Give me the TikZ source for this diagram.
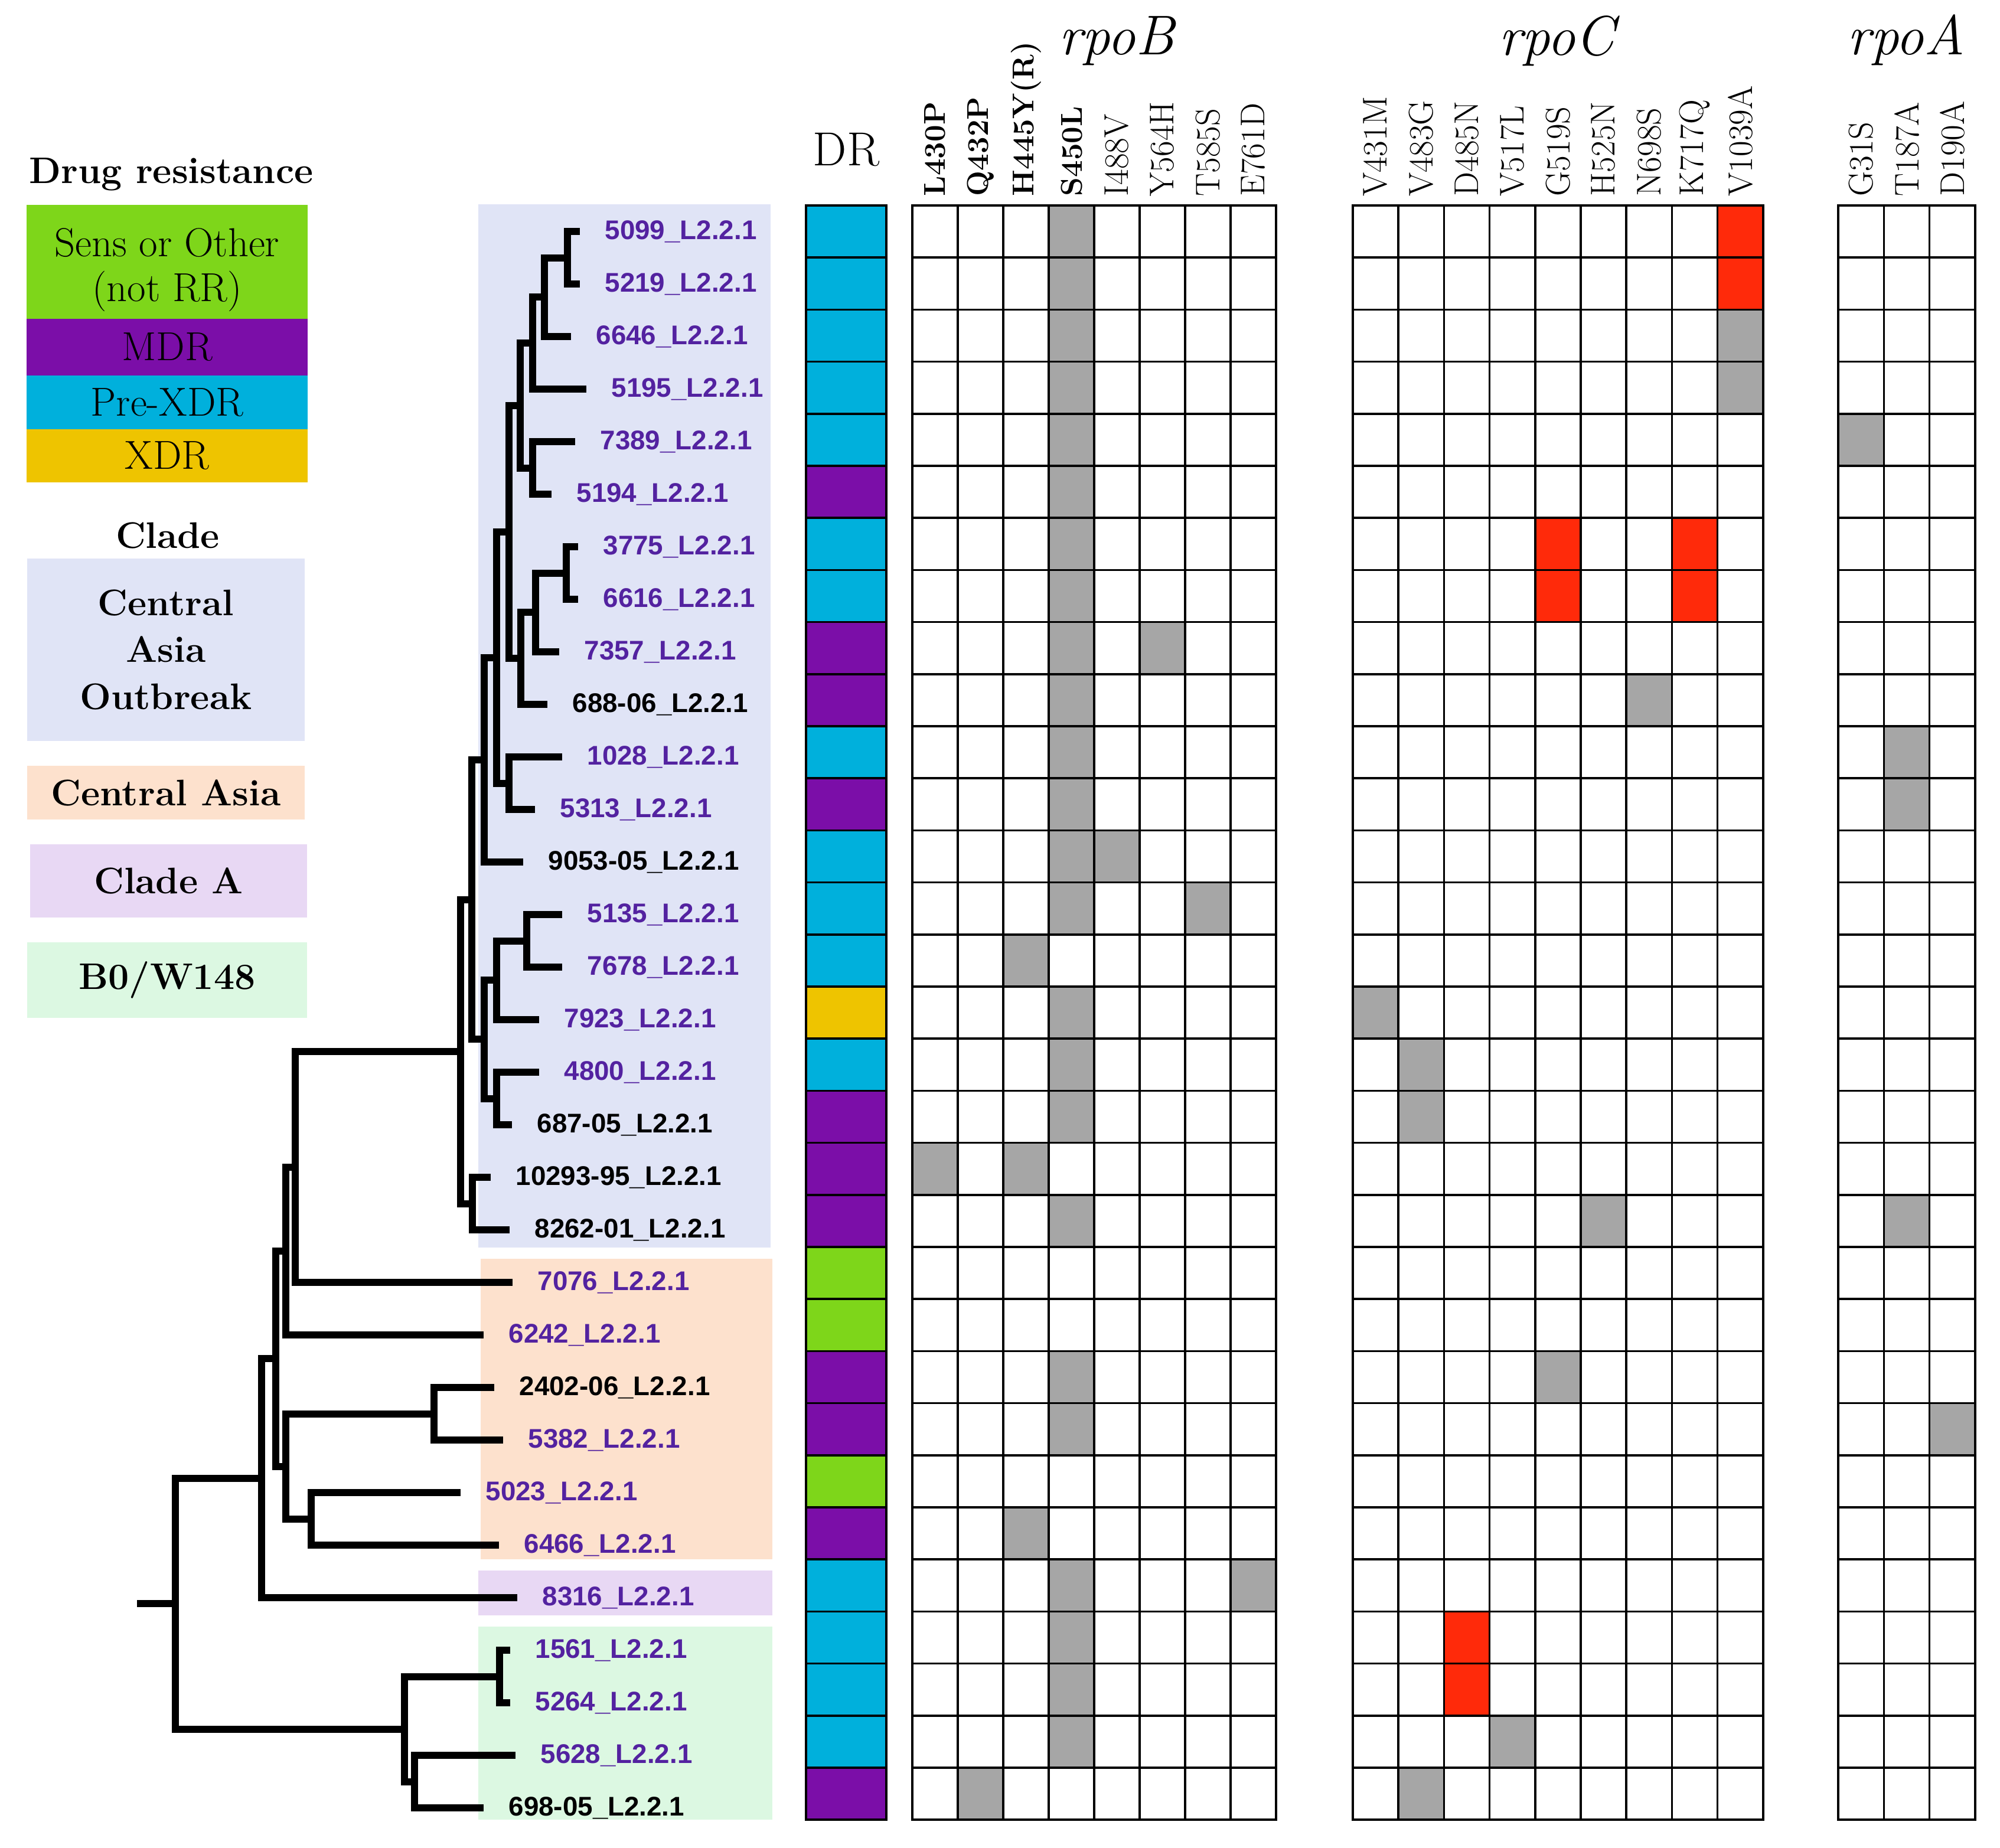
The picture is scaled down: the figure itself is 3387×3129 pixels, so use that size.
\documentclass[tikz,border=0pt]{standalone}
\usepackage{fontspec}
\newfontfamily\samplefont{Liberation Sans}
\usetikzlibrary{calc}

\definecolor{drsens}{RGB}{126,214,26}
\definecolor{drmdr}{RGB}{123,14,168}
\definecolor{drpre}{RGB}{0,176,220}
\definecolor{drxdr}{RGB}{238,196,0}
\definecolor{bgcao}{RGB}{224,228,246}
\definecolor{bgca}{RGB}{253,225,205}
\definecolor{bgcladea}{RGB}{232,216,244}
\definecolor{bgbzero}{RGB}{220,248,226}
\definecolor{labpurple}{RGB}{83,34,160}
\definecolor{hitgray}{RGB}{166,166,166}
\definecolor{hitred}{RGB}{255,42,10}

% clade: name, x of the split, upper child, lower child
\newcommand{\clade}[4]{%
  \path ($(#3)!0.5!(#4)$) coordinate (#1m);
  \coordinate (#1) at ($(#2,0)!(#1m)!(#2,1)$);
  \draw[branch] (#3) -| (#1) |- (#4);
}
% grid of a gene block: left x, columns, column width
\newcommand{\genegrid}[3]{%
  \foreach \i in {0,...,31}
    \draw[cellline] (#1,{348+88.2*\i}) -- ({#1+#2*#3},{348+88.2*\i});
  \foreach \j in {0,...,#2}
    \draw[cellline] ({#1+#3*\j},348) -- ({#1+#3*\j},3082.2);
}

\begin{document}
\begin{tikzpicture}[x=0.01cm,y=-0.01cm,
  branch/.style={line width=0.12cm},
  leaf/.style={anchor=west,inner xsep=0.42cm,inner ysep=0pt,font=\samplefont\bfseries\fontsize{13}{15}\selectfont},
  cellline/.style={line width=0.035cm,line cap=rect},
  mutlab/.style={rotate=90,anchor=west,inner sep=0pt,font=\fontsize{16.5}{18}\selectfont},
  mutbold/.style={mutlab,font=\bfseries\fontsize{14.5}{16}\selectfont},
  gene/.style={anchor=base,inner sep=0pt,font=\itshape\fontsize{27}{30}\selectfont},
  legbox/.style={inner sep=0pt,minimum width=4.76cm,align=center,font=\fontsize{19.5}{21.5}\selectfont},
  cladebox/.style={inner sep=0pt,align=center,font=\bfseries\fontsize{17.8}{22.5}\selectfont},
  legtitle/.style={anchor=base,inner sep=0pt,font=\bfseries\fontsize{17.8}{21}\selectfont}]
  \useasboundingbox (0,0) rectangle (3387,3129);

  % legend
  \node[legtitle] (drtitle) at (290,310) {Drug resistance};
  \node[legbox,fill=drsens,minimum height=1.93cm] (sens) at (283,443.5) {\rule{0pt}{1.1em}Sens or Other\\(not RR)};
  \node[legbox,fill=drmdr,minimum height=0.96cm] (mdr) at (283,588) {MDR};
  \node[legbox,fill=drpre,minimum height=0.91cm] (prexdr) at (283,681.5) {Pre-XDR};
  \node[legbox,fill=drxdr,minimum height=0.90cm] (xdr) at (283,772) {XDR};
  \node[legtitle] (cladetitle) at (284,928) {Clade};
  \node[cladebox,fill=bgcao,minimum width=4.70cm,minimum height=3.09cm] (cao) at (281,1100.5) {Central\\Asia\\Outbreak};
  \node[cladebox,fill=bgca,minimum width=4.70cm,minimum height=0.91cm] (ca) at (281,1342.5) {Central Asia};
  \node[cladebox,fill=bgcladea,minimum width=4.69cm,minimum height=1.24cm] (cladea) at (285.5,1492) {Clade A};
  \node[cladebox,fill=bgbzero,minimum width=4.74cm,minimum height=1.28cm] (bzero) at (283,1660) {B0/W148};

  % clade shading behind the tree
  \fill[bgcao] (810,346) rectangle (1305,2113);
  \fill[bgca] (814,2132) rectangle (1308,2641);
  \fill[bgcladea] (810,2660) rectangle (1308,2736);
  \fill[bgbzero] (810,2755) rectangle (1308,3082);

  % leaves
  \foreach \nm/\lx/\txt/\cl [count=\i from 0] in {
    s5099/982/5099/labpurple, s5219/982/5219/labpurple, s6646/967/6646/labpurple,
    s5195/993/5195/labpurple, s7389/974/7389/labpurple, s5194/934/5194/labpurple,
    s3775/979/3775/labpurple, s6616/979/6616/labpurple, s7357/947/7357/labpurple,
    s68806/927/688-06/black, s1028/952/1028/labpurple, s5313/906/5313/labpurple,
    s905305/886/9053-05/black, s5135/952/5135/labpurple, s7678/952/7678/labpurple,
    s7923/913/7923/labpurple, s4800/913/4800/labpurple, s68705/867/687-05/black,
    s1029395/831/10293-95/black, s826201/863/8262-01/black, s7076/868/7076/labpurple,
    s6242/819/6242/labpurple, s240206/837/2402-06/black, s5382/852/5382/labpurple,
    s5023/780/5023/labpurple, s6466/845/6466/labpurple, s8316/876/8316/labpurple,
    s1561/864/1561/labpurple, s5264/864/5264/labpurple, s5628/873/5628/labpurple,
    s69805/819/698-05/black}
    \node[leaf,text=\cl] (\nm) at (\lx,{392+89*\i}) {\txt\_L2.2.1};

  % tree
  \clade{cA}{961}{s5099}{s5219}
  \clade{cB}{922}{cA}{s6646}
  \clade{cC}{902}{cB}{s5195}
  \clade{cE}{902}{s7389}{s5194}
  \clade{cD}{881}{cC}{cE}
  \clade{cI}{959}{s3775}{s6616}
  \clade{cH}{907}{cI}{s7357}
  \clade{cG}{882}{cH}{s68806}
  \clade{cF}{862}{cD}{cG}
  \clade{cK}{862}{s1028}{s5313}
  \clade{cJ}{841}{cF}{cK}
  \clade{cL}{820}{cJ}{s905305}
  \clade{cQ}{892}{s5135}{s7678}
  \clade{cO}{841}{cQ}{s7923}
  \clade{cP}{841}{s4800}{s68705}
  \clade{cN}{820}{cO}{cP}
  \clade{cM}{799}{cL}{cN}
  \clade{cS}{800}{s1029395}{s826201}
  \clade{cR}{780}{cM}{cS}
  \clade{cT}{500}{cR}{s7076}
  \clade{cU}{484}{cT}{s6242}
  \clade{cX}{735}{s240206}{s5382}
  \clade{cY}{527}{s5023}{s6466}
  \clade{cW}{484}{cX}{cY}
  \clade{cV}{467}{cU}{cW}
  \clade{cZ}{443}{cV}{s8316}
  \clade{cCC}{846}{s1561}{s5264}
  \clade{cDD}{702}{s5628}{s69805}
  \clade{cBB}{685}{cCC}{cDD}
  \clade{root}{297}{cZ}{cBB}
  \coordinate (stub) at ($(232,0)!(root)!(232,1)$);
  \draw[branch] (stub) -- (root);

  % DR column
  \node[anchor=base,inner sep=0pt,font=\fontsize{23}{26}\selectfont] (drhead) at (1433,280) {DR};
  \foreach \cl [count=\r from 0] in {drpre,drpre,drpre,drpre,drpre,drmdr,drpre,drpre,drmdr,drmdr,
    drpre,drmdr,drpre,drpre,drpre,drxdr,drpre,drmdr,drmdr,drmdr,drsens,drsens,drmdr,drmdr,
    drsens,drmdr,drpre,drpre,drpre,drpre,drmdr}
    \fill[\cl] (1365,{348+88.2*\r}) rectangle ++(136,88.2);
  \genegrid{1365}{1}{136}

  % rpoB
  \node[gene] (tB) at (1891,92) {rpoB};
  \foreach \m [count=\j from 0] in {L430P,Q432P,H445Y(R),S450L}
    \node[mutbold] (hB\j) at ({1545+77*(\j+0.5)},333) {\m};
  \foreach \m [count=\j from 4] in {I488V,Y564H,T585S,E761D}
    \node[mutlab] (hB\j) at ({1545+77*(\j+0.5)},333) {\m};
  \foreach \c/\r in {3/0,3/1,3/2,3/3,3/4,3/5,3/6,3/7,3/8,3/9,3/10,3/11,3/12,3/13,3/15,3/16,
    3/17,3/19,3/22,3/23,3/26,3/27,3/28,3/29,2/14,0/18,2/18,2/25,1/30,5/8,4/12,6/13,7/26}
    \fill[hitgray] ({1545+77*\c},{348+88.2*\r}) rectangle ++(77,88.2);
  \genegrid{1545}{8}{77}

  % rpoC
  \node[gene] (tC) at (2636,93) {rpoC};
  \foreach \m [count=\j from 0] in {V431M,V483G,D485N,V517L,G519S,H525N,N698S,K717Q,V1039A}
    \node[mutlab] (hC\j) at ({2291+77.2*(\j+0.5)},333) {\m};
  \foreach \c/\r in {8/0,8/1,4/6,4/7,7/6,7/7,2/27,2/28}
    \fill[hitred] ({2291+77.2*\c},{348+88.2*\r}) rectangle ++(77.2,88.2);
  \foreach \c/\r in {8/2,8/3,6/9,0/15,1/16,1/17,5/19,4/22,3/29,1/30}
    \fill[hitgray] ({2291+77.2*\c},{348+88.2*\r}) rectangle ++(77.2,88.2);
  \genegrid{2291}{9}{77.2}

  % rpoA
  \node[gene] (tA) at (3228,92) {rpoA};
  \foreach \m [count=\j from 0] in {G31S,T187A,D190A}
    \node[mutlab] (hA\j) at ({3113+77.3*(\j+0.5)},333) {\m};
  \foreach \c/\r in {0/4,1/10,1/11,1/19,2/23}
    \fill[hitgray] ({3113+77.3*\c},{348+88.2*\r}) rectangle ++(77.3,88.2);
  \genegrid{3113}{3}{77.3}
\end{tikzpicture}
\end{document}
